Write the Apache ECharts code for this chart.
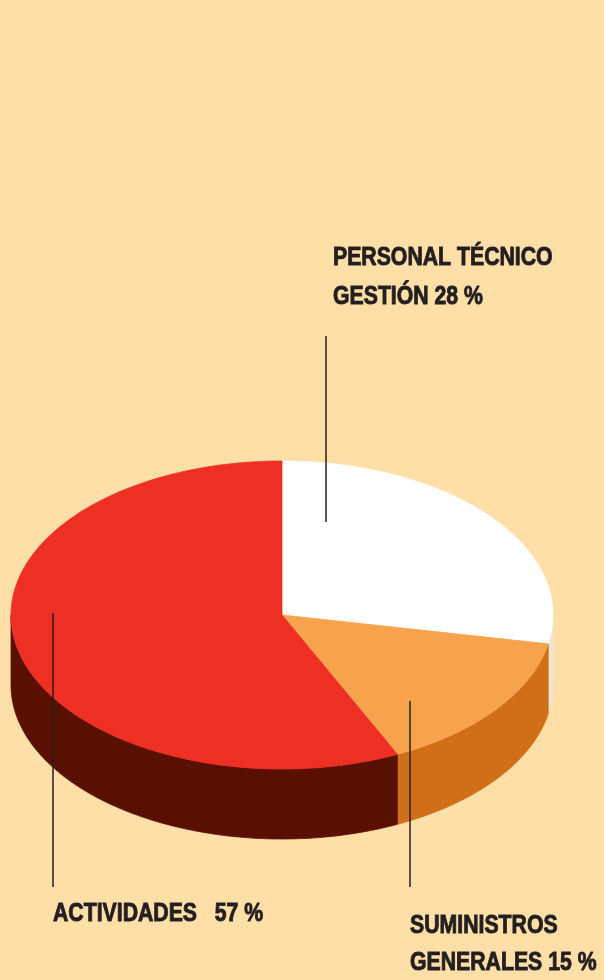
<!DOCTYPE html>
<html>
<head>
<meta charset="utf-8">
<script src="https://cdn.jsdelivr.net/npm/echarts@6/dist/echarts.min.js"></script>
<style>
html,body{margin:0;padding:0;background:#fddfa7;}
#chart{width:604px;height:980px;}
</style>
</head>
<body>
<div id="chart"></div>
<script>
// datos del gráfico
var categories = ['PERSONAL TÉCNICO GESTIÓN', 'SUMINISTROS GENERALES', 'ACTIVIDADES'];
var values = [28, 15, 57];
var labels = ['PERSONAL TÉCNICO\nGESTIÓN 28 %', 'SUMINISTROS\nGENERALES 15 %', 'ACTIVIDADES   57 %'];
var topColors = ['#ffffff', '#f7a34e', '#ee3024'];
var sideColors = ['#ece3d3', '#d06f18', '#5a1000'];

// geometría de la tarta (px)
var cx = 282, cy = 615, rx = 271, ry = 154, depth = 70, startAngle = 90;
var labelPos = [
    {lx: 326, ly: [336, 522], tx: 333, ty: 278, lh: 39},
    {lx: 410, ly: [701, 887], tx: 410, ty: 945, lh: 37},
    {lx: 53, ly: [613, 887], tx: 53, ty: 914, lh: 30}
];
// no hay Arial Narrow: Liberation Sans bold estrechada
var textFont = 'bold 25px "Liberation Sans", Arial, sans-serif';
var textScaleX = 0.85;

var total = values.reduce(function (a, b) { return a + b; }, 0);
var angles = [];
var acc = 0;
for (var i = 0; i < values.length; i++) {
    var a0 = startAngle - acc / total * 360;
    acc += values[i];
    var a1 = startAngle - acc / total * 360;
    angles.push([a0, a1]);
}

function pt(api, deg, dz) {
    var t = deg * Math.PI / 180;
    return api.coord([cx + rx * Math.cos(t), cy - ry * Math.sin(t) + dz]);
}

function renderWall(params, api) {
    var idx = params.dataIndex;
    var a0 = angles[idx][0], a1 = angles[idx][1];
    var children = [];
    [0, -360].forEach(function (k) {
        var hi = Math.min(a0, 0 + k), lo = Math.max(a1, -180 + k);
        if (hi <= lo) return;
        var pts = [];
        var d;
        for (d = hi; d > lo; d -= 1) pts.push(pt(api, d, 0));
        pts.push(pt(api, lo, 0));
        for (d = lo; d < hi; d += 1) pts.push(pt(api, d, depth));
        pts.push(pt(api, hi, depth));
        children.push({
            type: 'polygon',
            shape: {points: pts},
            style: {fill: sideColors[idx], stroke: sideColors[idx], lineWidth: 0.8}
        });
    });
    return {type: 'group', children: children};
}

function renderTop(params, api) {
    var idx = params.dataIndex;
    var a0 = angles[idx][0], a1 = angles[idx][1];
    var pts = [api.coord([cx, cy])];
    for (var d = a0; d > a1; d -= 1) pts.push(pt(api, d, 0));
    pts.push(pt(api, a1, 0));
    return {
        type: 'polygon',
        shape: {points: pts},
        style: {fill: topColors[idx], stroke: topColors[idx], lineWidth: 0.8}
    };
}

function renderLabel(params, api) {
    var idx = params.dataIndex;
    var p = labelPos[idx];
    var s = api.coord([p.lx, p.ly[0]]), e = api.coord([p.lx, p.ly[1]]);
    var tp = api.coord([p.tx, p.ty]);
    return {
        type: 'group',
        children: [
            {
                type: 'line',
                shape: {x1: s[0], y1: s[1], x2: e[0], y2: e[1]},
                style: {stroke: '#231f20', lineWidth: 1.5}
            },
            {
                type: 'text',
                x: tp[0], y: tp[1],
                scaleX: textScaleX,
                style: {
                    text: labels[idx],
                    x: 0, y: 0,
                    font: textFont,
                    fill: '#231f20',
                    stroke: '#231f20',
                    lineWidth: 0.9,
                    align: 'left',
                    verticalAlign: 'middle',
                    lineHeight: p.lh
                }
            }
        ]
    };
}

var seriesData = values.map(function (v, i) { return {name: categories[i], value: [i, v]}; });

var chart = echarts.init(document.getElementById('chart'));
chart.setOption({
    backgroundColor: '#fddfa7',
    animation: false,
    grid: {left: 0, right: 0, top: 0, bottom: 0},
    xAxis: {type: 'value', min: 0, max: 604, show: false},
    yAxis: {type: 'value', min: 0, max: 980, inverse: true, show: false},
    series: [
        {type: 'custom', name: 'lados', renderItem: renderWall, data: seriesData, z: 1, silent: true},
        {type: 'custom', name: 'caras', renderItem: renderTop, data: seriesData, z: 2, silent: true},
        {type: 'custom', name: 'etiquetas', renderItem: renderLabel, data: seriesData, z: 3, silent: true}
    ]
});
</script>
</body>
</html>
